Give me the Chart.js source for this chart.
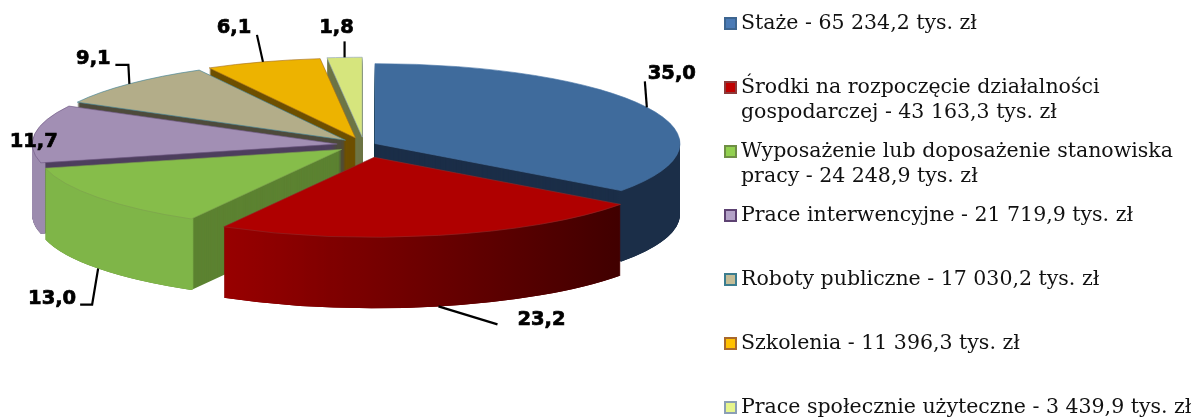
<!DOCTYPE html>
<html>
<head>
<meta charset="utf-8">
<style>
  html, body { margin: 0; padding: 0; background: #fff; }
  canvas { display: block; }
</style>
<script src="https://cdn.jsdelivr.net/npm/chart.js@4"></script>
</head>
<body>
<canvas id="pieChart" width="1193" height="419"></canvas>
<script>
const categories = [
    'Staże',
    'Środki na rozpoczęcie działalności gospodarczej',
    'Wyposażenie lub doposażenie stanowiska pracy',
    'Prace interwencyjne',
    'Roboty publiczne',
    'Szkolenia',
    'Prace społecznie użyteczne'
];
const amounts = [65234.2, 43163.3, 24248.9, 21719.9, 17030.2, 11396.3, 3439.9];
const shares = ['35,0', '23,2', '13,0', '11,7', '9,1', '6,1', '1,8'];

const topColors = ['#3f6b9c', '#af0000', '#86bd4a', '#a28fb4', '#b3ad89', '#edb300', '#d6e57d'];
const edgeColors = ['#4a76a8', '#8f2a2a', '#7d9f4e', '#6f5a84', '#3f8398', '#a5701e', '#8ea2b8'];
const faceColors = ['#1b2e48', '#6a0000', '#5c8231', '#4e3f5e', '#4e4b3c', '#6e5000', '#6d7545'];
const wallStops = [
    ['#1b2e48', '#1b2e48'],
    ['#980000', '#3e0000'],
    ['#7fb548', '#84bb4b'],
    ['#9c8bae', '#9c8bae'],
    ['#8a8468', '#8a8468'],
    ['#8a6500', '#8a6500'],
    ['#a8b460', '#a8b460']
];
const swatchFill = ['#4a7ab5', '#c00000', '#92d050', '#b3a2c7', '#c4bd97', '#ffc000', '#e6f58c'];
const swatchEdge = ['#3d6590', '#8c3a3a', '#6f8f45', '#5d4272', '#3b7d8f', '#a8682c', '#8b9fb5'];

// how far each slice is pulled out of the pie, px before squashing
const explode = [12.3, 48, 28, 27, 26, 28, 30];
// back to front
const drawOrder = [6, 5, 4, 0, 3, 2, 1];

const pieX = 364;
const pieY = 145;
const squash = 0.262;
const depth = 71;

// label centre and leader elbows, relative to the outer point of the slice
const labelOffset = [[25, -33], [103, 14], [-46, 30], [-1, 8], [-36, -25], [-29, -34], [-8, -29]];
const leaderPoints = [
    [[-2, -26]],
    [[59, 18]],
    [[-6, 36], [-18, 36]],
    [],
    [[-1, -19], [-14, -19]],
    [[-6, -27]],
    [[0, -16]]
];

function formatAmount(v) {
    const parts = v.toFixed(1).split('.');
    return parts[0].replace(/\B(?=(\d{3})+$)/g, ' ') + ',' + parts[1];
}

function drawSlice(ctx, arc, i, yShift, fill, line) {
    const half = (arc.startAngle + arc.endAngle) / 2;
    const saved = arc.options;
    arc.options = Object.assign(Object.create(saved), {
        backgroundColor: fill,
        borderColor: line || fill,
        borderWidth: line ? 1 : 0
    });
    ctx.save();
    ctx.translate(pieX + Math.cos(half) * explode[i], pieY + yShift + Math.sin(half) * explode[i] * squash);
    ctx.scale(1, squash);
    ctx.translate(-arc.x, -arc.y);
    arc.draw(ctx);
    ctx.restore();
    arc.options = saved;
}

// outer wall, only the part of the rim that faces the viewer
function drawWall(ctx, arc, i, fill) {
    const start = arc.startAngle;
    const end = arc.endAngle;
    const circ = arc.circumference;
    const inner = arc.innerRadius;
    const half = (start + end) / 2;
    const from = Math.max(start, 0);
    const to = Math.min(end, Math.PI);
    if (to <= from) {
        return;
    }
    const saved = arc.options;
    arc.options = Object.assign(Object.create(saved), { backgroundColor: fill, borderColor: fill, borderWidth: 0 });
    arc.startAngle = from;
    arc.endAngle = to;
    arc.circumference = to - from;
    arc.innerRadius = arc.outerRadius - 5;
    for (let d = depth; d > 0; d -= 0.5) {
        ctx.save();
        ctx.translate(pieX + Math.cos(half) * explode[i], pieY + d + Math.sin(half) * explode[i] * squash);
        ctx.scale(1, squash);
        ctx.translate(-arc.x, -arc.y);
        arc.draw(ctx);
        ctx.restore();
    }
    arc.startAngle = start;
    arc.endAngle = end;
    arc.circumference = circ;
    arc.innerRadius = inner;
    arc.options = saved;
}

const pie3d = {
    id: 'pie3d',
    beforeDatasetsDraw(chart) {
        const ctx = chart.ctx;
        const arcs = chart.getDatasetMeta(0).data;
        drawOrder.forEach(i => {
            const arc = arcs[i];
            const r = arc.outerRadius;
            const grad = ctx.createLinearGradient(arc.x - r * 0.49, 0, arc.x + r * 0.84, 0);
            if (i === 2) {
                grad.addColorStop(0, wallStops[i][0]);
                grad.addColorStop(0.2, wallStops[i][1]);
            } else {
                grad.addColorStop(0, wallStops[i][0]);
                grad.addColorStop(1, wallStops[i][1]);
            }
            for (let d = depth; d > 0; d--) {
                drawSlice(ctx, arc, i, d, faceColors[i], null);
            }
            drawWall(ctx, arc, i, grad);
            drawSlice(ctx, arc, i, 0, topColors[i], edgeColors[i]);
        });
        return false;
    },
    afterDraw(chart) {
        const ctx = chart.ctx;
        const arcs = chart.getDatasetMeta(0).data;
        ctx.save();
        ctx.strokeStyle = '#000';
        ctx.fillStyle = '#000';
        ctx.font = 'bold 19.5px "DejaVu Sans"';
        ctx.textAlign = 'center';
        ctx.textBaseline = 'middle';
        arcs.forEach((arc, i) => {
            const half = (arc.startAngle + arc.endAngle) / 2;
            const len = arc.outerRadius + explode[i];
            const ax = pieX + Math.cos(half) * len;
            // the front slices carry their leader on the bottom of the wall
            const ay = pieY + Math.sin(half) * len * squash + (Math.sin(half) > 0 ? depth : 0);
            if (leaderPoints[i].length) {
                ctx.lineWidth = 2.2;
                ctx.beginPath();
                ctx.moveTo(ax, ay);
                leaderPoints[i].forEach(p => ctx.lineTo(ax + p[0], ay + p[1]));
                ctx.stroke();
            }
            // reference labels are heavier than plain bold
            ctx.lineWidth = 0.7;
            ctx.fillText(shares[i], ax + labelOffset[i][0], ay + labelOffset[i][1]);
            ctx.strokeText(shares[i], ax + labelOffset[i][0], ay + labelOffset[i][1]);
        });
        ctx.restore();
    }
};

const legendPanel = {
    id: 'legendPanel',
    afterDraw(chart) {
        const ctx = chart.ctx;
        const maxWidth = 455;
        ctx.save();
        ctx.font = '20.5px "DejaVu Serif"';
        ctx.textBaseline = 'middle';
        ctx.textAlign = 'left';
        chart.data.labels.forEach((name, i) => {
            const y = 24 + i * 64;
            ctx.fillStyle = swatchFill[i];
            ctx.strokeStyle = swatchEdge[i];
            ctx.lineWidth = 2;
            ctx.fillRect(725, y - 6, 11, 11);
            ctx.strokeRect(725, y - 6, 11, 11);

            const words = (name + ' - ' + formatAmount(amounts[i]) + ' tys. zł').split(' ');
            let line = '';
            let lineY = y;
            ctx.fillStyle = '#111';
            words.forEach((w, n) => {
                const next = line ? line + ' ' + w : w;
                if (ctx.measureText(next).width > maxWidth && n > 0) {
                    ctx.fillText(line, 741, lineY);
                    lineY += 25;
                    line = w;
                } else {
                    line = next;
                }
            });
            ctx.fillText(line, 741, lineY);
        });
        ctx.restore();
    }
};

new Chart(document.getElementById('pieChart'), {
    type: 'pie',
    data: {
        labels: categories,
        datasets: [{
            data: amounts,
            backgroundColor: topColors,
            borderColor: edgeColors,
            borderWidth: 1
        }]
    },
    options: {
        responsive: false,
        animation: false,
        events: [],
        radius: 305,
        plugins: {
            legend: { display: false },
            tooltip: { enabled: false }
        }
    },
    plugins: [pie3d, legendPanel]
});
</script>
</body>
</html>
